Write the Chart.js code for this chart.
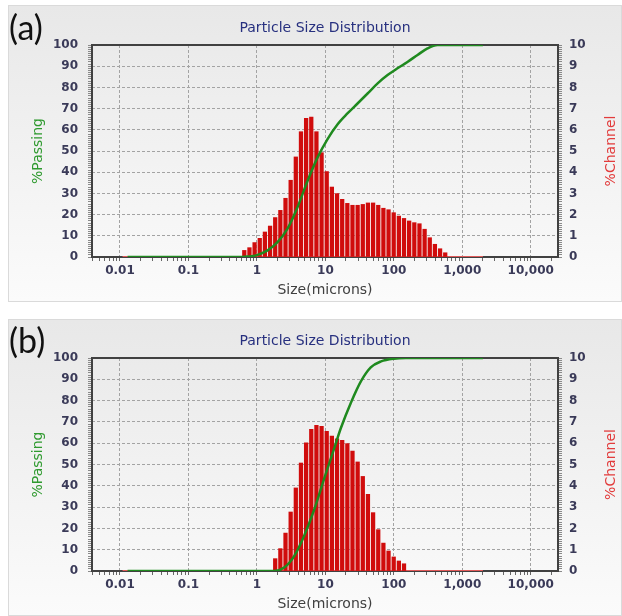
<!DOCTYPE html>
<html>
<head>
<meta charset="utf-8">
<title>Particle Size Distribution</title>
<script src="https://cdn.jsdelivr.net/npm/chart.js@4.4.1/dist/chart.umd.min.js"></script>
<style>
  html, body { margin: 0; padding: 0; background: #fff; }
  body { width: 622px; height: 616px; position: relative; overflow: hidden; }
  .panel { position: absolute; left: 8px; width: 614px; height: 297px; border: 1px solid #dadada; box-sizing: border-box;
           background: linear-gradient(#e8e8e8, #fbfbfb); }
  .tag { position: absolute; left: 9px; font-family: Lato, "Open Sans", sans-serif; font-size: 34px; line-height: 1; color: #111; }
  canvas { position: absolute; left: 0; }
</style>
</head>
<body>
<div class="panel" style="top:5px"></div>
<div class="panel" style="top:319px"></div>
<canvas id="chartA" width="622" height="302" style="top:0"></canvas>
<canvas id="chartB" width="622" height="303" style="top:313px"></canvas>
<div class="tag" style="top:10px">(a)</div>
<div class="tag" style="top:323px">(b)</div>
<script>
// channel sizes in microns (4th root of 2 series) and %channel
const sizesA = [0.654, 0.778, 0.925, 1.100, 1.308, 1.556, 1.850, 2.200, 2.616, 3.111,
  3.700, 4.400, 5.232, 6.222, 7.400, 8.800, 10.46, 12.44, 14.80, 17.60,
  20.93, 24.89, 29.60, 35.20, 41.86, 49.78, 59.20, 70.40, 83.71, 99.55,
  118.4, 140.8, 167.4, 199.1, 236.8, 281.6, 334.8, 398.1, 473.6, 563.2];
const channelA = [0.31, 0.44, 0.68, 0.88, 1.18, 1.46, 1.86, 2.20, 2.77, 3.62,
  4.72, 5.91, 6.54, 6.60, 5.91, 4.92, 4.03, 3.30, 2.99, 2.72,
  2.53, 2.44, 2.44, 2.48, 2.55, 2.55, 2.44, 2.30, 2.23, 2.09,
  1.93, 1.82, 1.70, 1.62, 1.57, 1.31, 0.91, 0.60, 0.39, 0.20];
const passSizesA = [0.0129, 0.6, 0.73, 1.0, 1.43, 2.0, 2.8, 3.93, 5.5, 7.7, 10.7, 15, 21,
  29.5, 41, 58, 81, 113, 158, 222, 310, 435, 2000];
const passingA = [0, 0, 0.2, 0.9, 3.1, 7, 13.4, 23.6, 36, 47, 55.5, 62.5, 67.7,
  72.4, 77, 81.9, 85.8, 89, 92, 95.3, 98.4, 100, 100];

const sizesB = [1.850, 2.200, 2.616, 3.111, 3.700, 4.400, 5.232, 6.222, 7.400, 8.800,
  10.46, 12.44, 14.80, 17.60, 20.93, 24.89, 29.60, 35.20, 41.86, 49.78,
  59.20, 70.40, 83.71, 99.55, 118.4, 140.8];
const channelB = [0.58, 1.05, 1.78, 2.77, 3.90, 5.07, 6.02, 6.65, 6.84, 6.79,
  6.56, 6.34, 6.21, 6.13, 5.98, 5.63, 5.12, 4.44, 3.60, 2.74,
  1.94, 1.31, 0.94, 0.66, 0.47, 0.34];
const passSizesB = [0.0129, 1.79, 2.5, 3.5, 4.9, 6.9, 9.6, 13.5, 16.8, 23.6, 33, 46, 65, 100, 150, 2000];
const passingB = [0, 0, 1.6, 7, 16.6, 29, 43.4, 57.7, 67, 79, 89, 95.6, 98.4, 99.7, 100, 100];

// zero line of the channel histogram (measured range)
const baseSizes = [0.0109, 2000];
const baseValues = [0, 0];

const decadeValues = [0.01, 0.1, 1, 10, 100, 1000, 10000];
const decadeLabels = ['0.01', '0.1', '1', '10', '100', '1,000', '10,000'];

Chart.defaults.font.family = '"DejaVu Sans", sans-serif';

const pairs = (xs, ys) => xs.map((x, i) => ({x: x, y: ys[i]}));
const isDecade = v => Math.abs(Math.log10(v) - Math.round(Math.log10(v))) < 1e-6;
const near = (v, step) => Math.abs(v / step - Math.round(v / step)) < 1e-6;

const framePlugin = {
  id: 'frame',
  beforeDatasetsDraw(chart) {
    const {ctx, chartArea: a} = chart;
    ctx.save();
    ctx.strokeStyle = '#414141';
    ctx.lineWidth = 2;
    ctx.strokeRect(a.left, a.top, a.right - a.left, a.bottom - a.top);
    ctx.restore();
  },
  afterDraw(chart) {
    // right axis title reads bottom-to-top like the left one
    const t = chart.options.scales.y1.title;
    const a = chart.chartArea;
    const ctx = chart.ctx;
    ctx.save();
    ctx.translate(611, (a.top + a.bottom) / 2);
    ctx.rotate(-Math.PI / 2);
    ctx.font = '14px "DejaVu Sans"';
    ctx.fillStyle = '#e23c3c';
    ctx.textAlign = 'center';
    ctx.textBaseline = 'middle';
    ctx.fillText(t.text, 0, 0);
    ctx.restore();
  }
};

function makeChart(id, sizes, channel, passSizes, passing) {
  const tickColor = '#3a3a58';
  const tickFont = {size: 12, weight: 'bold'};
  return new Chart(document.getElementById(id), {
    type: 'line',
    data: {
      datasets: [
        {
          label: '%Passing',
          data: pairs(passSizes, passing),
          yAxisID: 'y',
          borderColor: '#1f8a1f',
          borderWidth: 2.5,
          pointRadius: 0,
          cubicInterpolationMode: 'monotone',
          order: 0
        },
        {
          type: 'bar',
          label: '%Channel',
          data: pairs(sizes, channel),
          yAxisID: 'y1',
          backgroundColor: '#d00c0c',
          borderWidth: 0,
          barThickness: 3.6,
          order: 1
        },
        {
          label: 'base',
          data: pairs(baseSizes, baseValues),
          yAxisID: 'y1',
          borderColor: '#e05a5a',
          borderWidth: 2,
          pointRadius: 0,
          order: 2
        }
      ]
    },
    options: {
      responsive: false,
      devicePixelRatio: 1,
      animation: false,
      layout: {padding: 0},
      plugins: {
        legend: {display: false},
        tooltip: {enabled: false},
        title: {
          display: true,
          text: 'Particle Size Distribution',
          color: '#27307f',
          fullSize: false,
          font: {size: 14, weight: 'normal'},
          padding: {top: 19.6, bottom: 8.6}
        }
      },
      scales: {
        x: {
          type: 'logarithmic',
          min: 0.0039,
          max: 25000,
          offset: false,
          afterFit: s => { s.height = 45; },
          afterBuildTicks: s => {
            const ticks = [];
            for (let e = -3; e <= 4; e++) {
              for (let m = 1; m < 10; m++) {
                const v = m * Math.pow(10, e);
                if (v >= s.min && v <= s.max) ticks.push({value: v});
              }
            }
            s.ticks = ticks;
          },
          ticks: {
            autoSkip: false,
            maxRotation: 0,
            padding: 3,
            color: tickColor,
            font: tickFont,
            callback: v => {
              const i = decadeValues.findIndex(d => Math.abs(Math.log10(d) - Math.log10(v)) < 1e-6);
              return i >= 0 ? decadeLabels[i] : '';
            }
          },
          grid: {
            offset: false,
            color: c => (c.tick && isDecade(c.tick.value)) ? '#a3a3a3' : 'rgba(0,0,0,0)',
            tickColor: '#666',
            tickLength: 4
          },
          border: {display: false, dash: [3, 2]},
          title: {
            display: true,
            text: 'Size(microns)',
            color: '#404040',
            font: {size: 14},
            padding: {top: 0, bottom: 3}
          }
        },
        y: {
          position: 'left',
          min: 0,
          max: 100,
          afterFit: s => { s.width = 92; },
          ticks: {
            stepSize: 1,
            autoSkip: false,
            padding: 10,
            color: tickColor,
            font: tickFont,
            callback: v => near(v, 10) ? v : ''
          },
          grid: {
            color: c => (c.tick && near(c.tick.value, 10)) ? '#a3a3a3' : 'rgba(0,0,0,0)',
            tickColor: '#8a8a8a',
            tickLength: 4
          },
          border: {display: false, dash: [3, 2]},
          title: {
            display: true,
            text: '%Passing',
            color: '#2f9a2f',
            font: {size: 14},
            padding: {top: 30, bottom: 0}
          }
        },
        y1: {
          position: 'right',
          min: 0,
          max: 10,
          afterFit: s => { s.width = 64; },
          ticks: {
            stepSize: 0.1,
            autoSkip: false,
            padding: 7,
            color: tickColor,
            font: tickFont,
            callback: v => near(v, 1) ? Math.round(v) : ''
          },
          grid: {
            drawOnChartArea: false,
            tickColor: '#8a8a8a',
            tickLength: 4
          },
          border: {display: false},
          title: {display: false, text: '%Channel'}
        }
      }
    },
    plugins: [framePlugin]
  });
}

makeChart('chartA', sizesA, channelA, passSizesA, passingA);
makeChart('chartB', sizesB, channelB, passSizesB, passingB);
</script>
</body>
</html>
